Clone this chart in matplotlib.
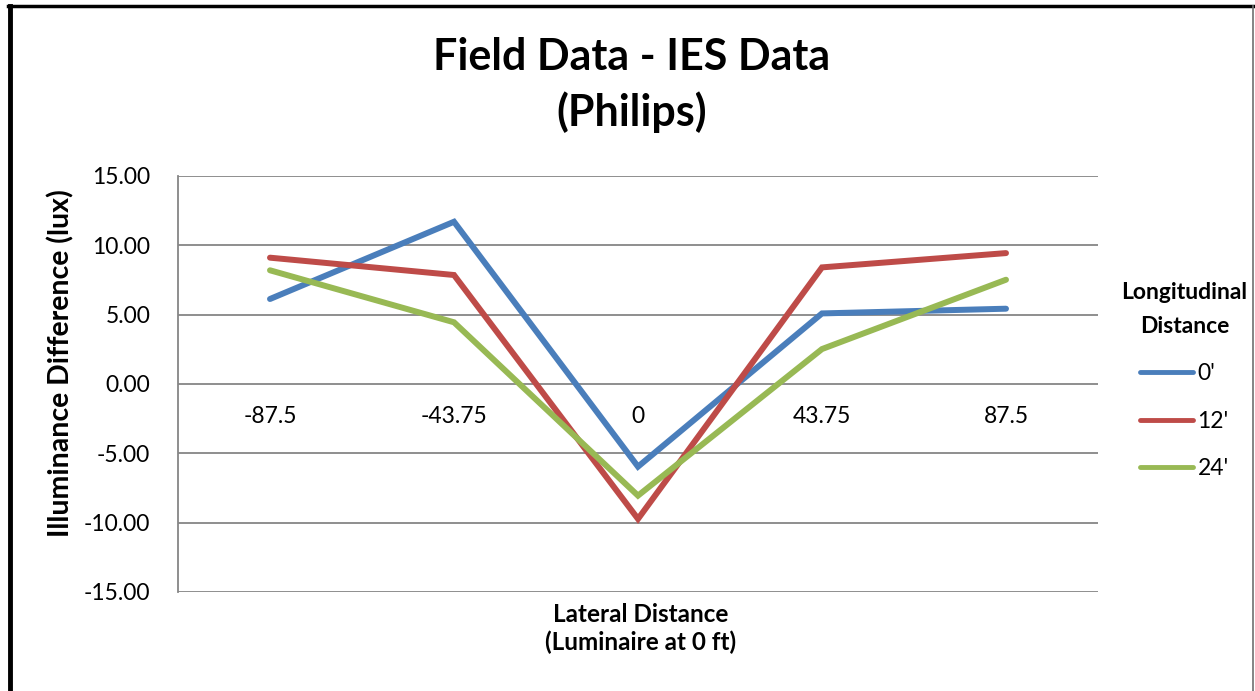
import matplotlib
matplotlib.use("Agg")
import matplotlib.pyplot as plt
from matplotlib.lines import Line2D

plt.rcParams['font.family'] = ['Lato', 'DejaVu Sans']
plt.rcParams['axes.unicode_minus'] = False

# data
lateral = ['-87.5', '-43.75', '0', '43.75', '87.5']
series_names = ["0'", "12'", "24'"]
diff_0 = [6.13, 11.70, -5.96, 5.09, 5.43]
diff_12 = [9.11, 7.86, -9.73, 8.41, 9.44]
diff_24 = [8.20, 4.45, -8.05, 2.52, 7.52]
colors = ['#4A7EBB', '#BE4B48', '#98B954']

W, H = 1255, 691
fig = plt.figure(figsize=(W / 100, H / 100), dpi=100)
ax = fig.add_axes([178 / W, 99 / H, 920 / W, 416 / H])

x = list(range(len(lateral)))
for vals, name, c in zip([diff_0, diff_12, diff_24], series_names, colors):
    ax.plot(x, vals, color=c, lw=4.3, label=name, solid_capstyle='round',
            solid_joinstyle='miter')

ax.set_xlim(-0.5, 4.5)
ax.set_ylim(-15, 15)
ax.set_yticks(range(-15, 16, 5))
ax.set_yticklabels([f"{v:.2f}" for v in range(-15, 16, 5)])
ax.set_xticks(x)
ax.set_xticklabels(lateral)

# horizontal gridlines in Excel grey
for v in range(-15, 16, 5):
    ax.axhline(v, color='#868686', lw=1.3, zorder=0)

for s in ['top', 'right']:
    ax.spines[s].set_visible(False)
ax.spines['left'].set_color('#868686')
ax.spines['left'].set_linewidth(1.3)
ax.spines['bottom'].set_position(('data', 0))
ax.spines['bottom'].set_visible(False)
ax.tick_params(axis='y', length=0, pad=20, labelsize=16.5)
ax.tick_params(axis='x', length=0, pad=16, labelsize=16.5)

# titles and axis labels
fig.text(632 / W, 1 - 57 / H, "Field Data - IES Data", ha='center', va='center',
         fontsize=31, fontweight='bold')
fig.text(632 / W, 1 - 112 / H, "(Philips)", ha='center', va='center',
         fontsize=31, fontweight='bold')
fig.text(61 / W, 1 - 363 / H, "Illuminance Difference (lux)", rotation=90,
         ha='center', va='center', fontsize=20.5, fontweight='bold')
fig.text(641 / W, 1 - 614 / H, "Lateral Distance", ha='center', va='center',
         fontsize=17.5, fontweight='bold')
fig.text(641 / W, 1 - 642 / H, "(Luminaire at 0 ft)", ha='center', va='center',
         fontsize=17.5, fontweight='bold')

leg = ax.legend(loc='center left', frameon=False,
                fontsize=16.5, title="Longitudinal\nDistance", handlelength=2.3,
                handletextpad=0.2, labelspacing=1.15, alignment='center',
                title_fontproperties={'weight': 'bold', 'size': 16.5})
leg.set_bbox_to_anchor((1.003, 0.508), transform=ax.transAxes)
leg.get_title().set_multialignment('center')
leg.get_title().set_linespacing(1.75)
for h in leg.get_lines():
    h.set_linewidth(3.5)

# outer chart border
fig.add_artist(Line2D([10 / W, 10 / W], [0, 1 - 6 / H], color='black', lw=3.5))
fig.add_artist(Line2D([8 / W, 1253 / W], [1 - 6 / H, 1 - 6 / H], color='black', lw=2.5))
fig.add_artist(Line2D([1253 / W, 1253 / W], [0, 1 - 6 / H], color='#707070', lw=1.2))

fig.savefig('out.png', dpi=100)
